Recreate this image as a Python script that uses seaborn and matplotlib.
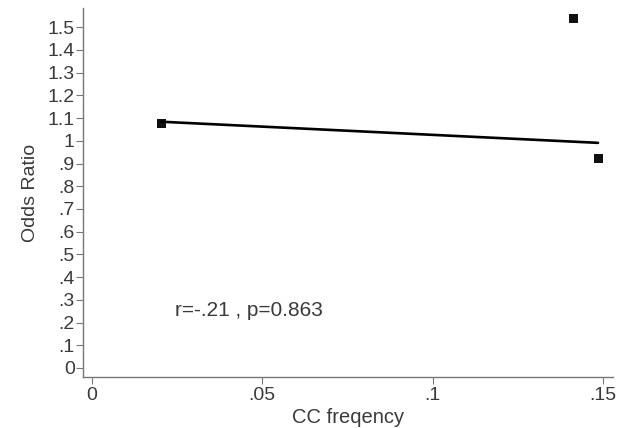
import numpy as np
import pandas as pd
import matplotlib
matplotlib.use("Agg")
import matplotlib.pyplot as plt
import seaborn as sns

# data
cc_freq = [0.0203, 0.1412, 0.1485]
odds_ratio = [1.075, 1.537, 0.921]
fit_x = [0.0203, 0.1485]
fit_y = [1.084, 0.991]

x_ticks = [0, 0.05, 0.1, 0.15]
x_labels = ["0", ".05", ".1", ".15"]
y_ticks = [round(0.1 * i, 1) for i in range(16)]
y_labels = ["0", ".1", ".2", ".3", ".4", ".5", ".6", ".7", ".8", ".9",
            "1", "1.1", "1.2", "1.3", "1.4", "1.5"]
note = "r=-.21 , p=0.863"

sns.set_style("white")
plt.rcParams['font.family'] = ['Liberation Sans', 'DejaVu Sans']

df = pd.DataFrame({"x": cc_freq, "y": odds_ratio})

fig = plt.figure(figsize=(6.32, 4.28), dpi=100)
ax = fig.add_axes([0.1313, 0.119, 0.8387, 0.862])

sns.lineplot(x=fit_x, y=fit_y, color="black", linewidth=1.9, ax=ax)
sns.scatterplot(data=df, x="x", y="y", marker="s", color="#111111", s=42,
                edgecolor="none", ax=ax)

ax.set_xlim(-0.0026, 0.1529)
ax.set_ylim(-0.04, 1.584)
ax.set_xticks(x_ticks)
ax.set_xticklabels(x_labels)
ax.set_yticks(y_ticks)
ax.set_yticklabels(y_labels)

ax.tick_params(axis="both", direction="out", length=5, width=0.8, color="#777777",
               labelsize=14, labelcolor="#3a3a3a", pad=1, bottom=True, left=True)
ax.tick_params(axis="x", pad=2)
for side in ["top", "right"]:
    ax.spines[side].set_visible(False)
for side in ["left", "bottom"]:
    ax.spines[side].set_color("#777777")
    ax.spines[side].set_linewidth(1.0)

ax.set_xlabel("CC freqency", fontsize=14.5, color="#3a3a3a", labelpad=3)
ax.set_ylabel("Odds Ratio", fontsize=14, color="#3a3a3a", labelpad=6)

ax.text(0.0244, 0.255, note, fontsize=15, color="#3a3a3a", va="center", ha="left")

fig.savefig("out.png", dpi=100)
